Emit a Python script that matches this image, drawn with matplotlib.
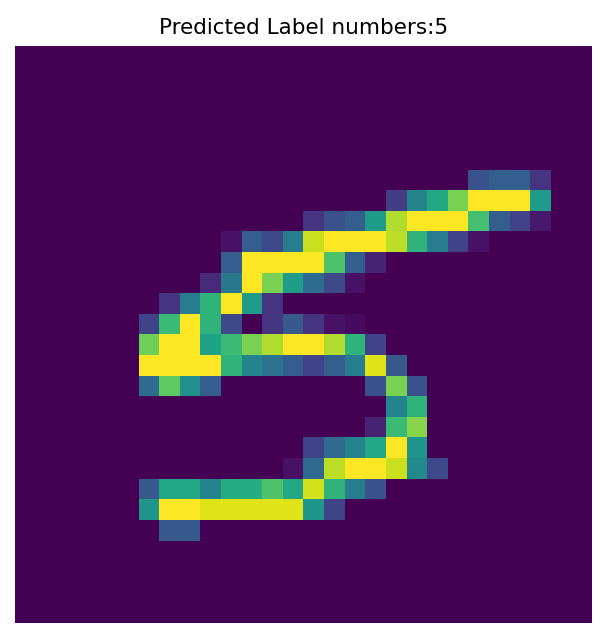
import matplotlib
matplotlib.use("Agg")
import matplotlib.pyplot as plt
import numpy as np

TITLE = "Predicted Label numbers:5"

# intensity rows: (row, first column, values)
ROWS = [
    (6, 22, [0.25, 0.3, 0.3, 0.15]),
    (7, 18, [0.18, 0.45, 0.6, 0.8, 1.0, 1.0, 1.0, 0.55]),
    (8, 14, [0.15, 0.25, 0.3, 0.55, 0.88, 1.0, 1.0, 1.0, 0.7, 0.3, 0.2, 0.07]),
    (9, 10, [0.05, 0.3, 0.22, 0.42, 0.92, 1.0, 1.0, 1.0, 0.9, 0.65, 0.42, 0.2, 0.05]),
    (10, 10, [0.3, 1.0, 1.0, 1.0, 1.0, 0.72, 0.3, 0.1]),
    (11, 9, [0.12, 0.4, 1.0, 0.8, 0.55, 0.35, 0.22, 0.05]),
    (12, 7, [0.15, 0.42, 0.65, 1.0, 0.55, 0.15]),
    (13, 6, [0.2, 0.68, 1.0, 0.65, 0.22, 0.0, 0.15, 0.28, 0.15, 0.05, 0.03]),
    (14, 6, [0.78, 1.0, 1.0, 0.58, 0.68, 0.8, 0.88, 1.0, 1.0, 0.88, 0.65, 0.2]),
    (15, 6, [1.0, 1.0, 1.0, 1.0, 0.65, 0.45, 0.38, 0.3, 0.2, 0.3, 0.42, 0.95, 0.28]),
    (16, 6, [0.35, 0.75, 0.5, 0.3, 0, 0, 0, 0, 0, 0, 0, 0.25, 0.8, 0.25]),
    (17, 18, [0.45, 0.65]),
    (18, 17, [0.1, 0.68, 0.82]),
    (19, 14, [0.2, 0.35, 0.45, 0.6, 1.0, 0.52]),
    (20, 13, [0.05, 0.35, 0.9, 1.0, 1.0, 0.92, 0.48, 0.22]),
    (21, 6, [0.28, 0.6, 0.6, 0.45, 0.62, 0.62, 0.72, 0.6, 0.93, 0.65, 0.42, 0.25]),
    (22, 6, [0.52, 1.0, 1.0, 0.95, 0.95, 0.95, 0.95, 0.95, 0.52, 0.2]),
    (23, 7, [0.28, 0.28]),
]

img = np.zeros((28, 28))
for r, c0, vals in ROWS:
    img[r, c0:c0 + len(vals)] = vals

fig = plt.figure(figsize=(6.07, 6.39), dpi=100)
ax = fig.add_axes([15 / 607, 16 / 639, 577 / 607, 577 / 639])
ax.imshow(img, cmap="viridis", vmin=0, vmax=1, interpolation="nearest")
ax.set_title(TITLE, fontsize=15.5, pad=9)
ax.axis("off")
fig.savefig("out.png", dpi=100)
